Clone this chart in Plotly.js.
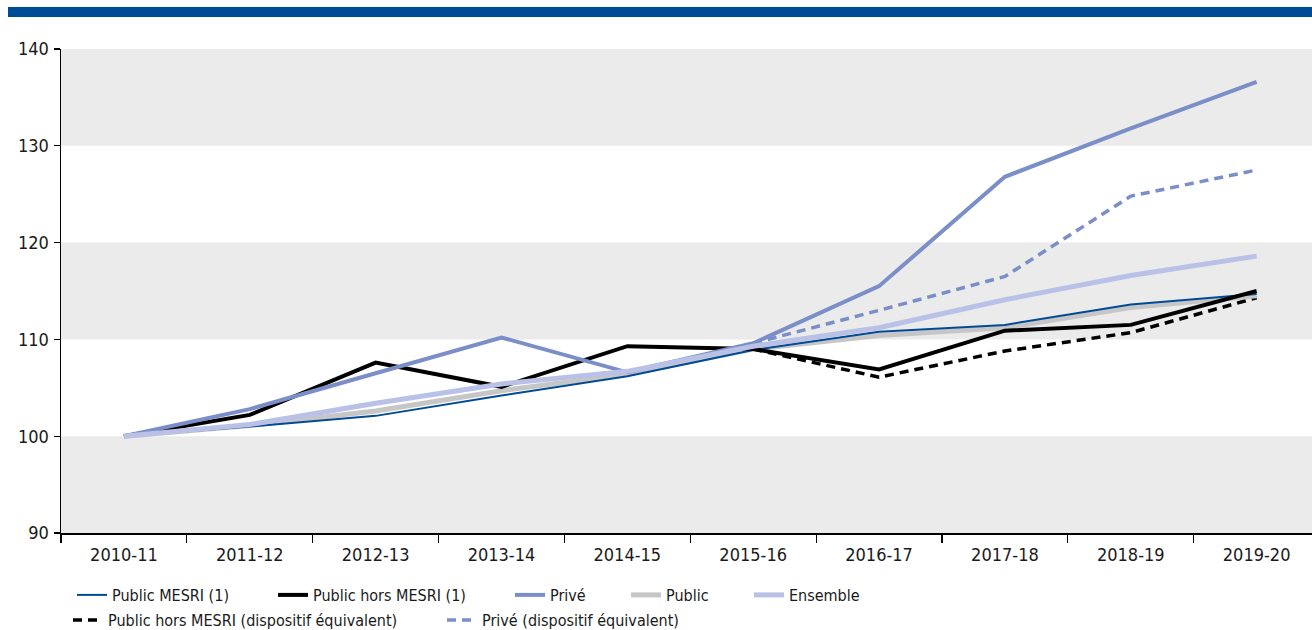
<!DOCTYPE html>
<html>
<head>
<meta charset="utf-8">
<script src="https://cdn.plot.ly/plotly-3.0.1.min.js"></script>
<style>
html,body{margin:0;padding:0;background:#fff;overflow:hidden;}
#topbar{position:absolute;left:8px;right:0;top:7px;height:10px;background:#004b96;}
#chart{position:absolute;left:0;top:0;width:1312px;height:630px;}
#chart text{font-stretch:condensed;}
</style>
</head>
<body>
<div id="chart"></div>
<div id="topbar"></div>
<script>
// Categories (school years)
const categories = ['2010-11','2011-12','2012-13','2013-14','2014-15','2015-16','2016-17','2017-18','2018-19','2019-20'];

// Series values (index base 100 in 2010-11)
const publicMesri      = [100, 101.0, 102.1, 104.2, 106.2, 108.9, 110.8, 111.5, 113.6, 114.7];
const publicHorsMesri  = [100, 102.2, 107.6, 105.1, 109.3, 109.0, 106.9, 110.9, 111.5, 115.0];
const prive            = [100, 102.8, 106.5, 110.2, 106.6, 109.6, 115.5, 126.8, 131.8, 136.6];
const publicTotal      = [100, 101.1, 102.6, 104.7, 106.4, 109.0, 110.4, 111.2, 113.3, 114.5];
const ensemble         = [100, 101.2, 103.4, 105.4, 106.7, 109.3, 111.2, 114.1, 116.6, 118.6];
const publicHorsEquiv  = [null, null, null, null, null, 109.0, 106.1, 108.8, 110.7, 114.3];
const priveEquiv       = [null, null, null, null, null, 109.6, 113.0, 116.5, 124.8, 127.5];

// Series names
const names = {
  mesri: 'Public MESRI (1)',
  hors: 'Public hors MESRI (1)',
  prive: 'Privé',
  pub: 'Public',
  ens: 'Ensemble',
  horsEq: 'Public hors MESRI (dispositif équivalent)',
  priveEq: 'Privé (dispositif équivalent)'
};

// Y-axis tick values and alternating shaded bands
const yTicks = [90, 100, 110, 120, 130, 140];
const bandStarts = [90, 110, 130];

const FONT = '"DejaVu Sans Condensed", "DejaVu Sans", sans-serif';

const traces = [
  {x: categories, y: publicHorsEquiv, name: names.horsEq, legend: 'legend6',
   mode: 'lines', line: {color: '#000000', width: 3.5, dash: '9px,6px'}},
  {x: categories, y: priveEquiv, name: names.priveEq, legend: 'legend7',
   mode: 'lines', line: {color: '#7a8ec8', width: 3.5, dash: '9px,6px'}},
  {x: categories, y: publicTotal, name: names.pub, legend: 'legend4',
   mode: 'lines', line: {color: '#c6c6c6', width: 5}},
  {x: categories, y: publicMesri, name: names.mesri, legend: 'legend',
   mode: 'lines', line: {color: '#004b96', width: 2}},
  {x: categories, y: publicHorsMesri, name: names.hors, legend: 'legend2',
   mode: 'lines', line: {color: '#000000', width: 4}},
  {x: categories, y: prive, name: names.prive, legend: 'legend3',
   mode: 'lines', line: {color: '#7a8ec8', width: 4}},
  {x: categories, y: ensemble, name: names.ens, legend: 'legend5',
   mode: 'lines', line: {color: '#b9c1e6', width: 5}}
];

const shapes = bandStarts.map(b => ({
  type: 'rect', xref: 'paper', yref: 'y', x0: 0, x1: 1, y0: b, y1: b + 10,
  fillcolor: '#ebebeb', line: {width: 0}, layer: 'below'
}));

function leg(px, py) {
  return {
    orientation: 'h', xref: 'container', yref: 'container',
    x: px / 1312, y: 1 - py / 630, xanchor: 'left', yanchor: 'top',
    bgcolor: 'rgba(0,0,0,0)', font: {family: FONT, size: 16, color: '#1a1a1a'},
    itemwidth: 30
  };
}

const layout = {
  width: 1312, height: 630,
  margin: {l: 61, r: 0, t: 49, b: 97},
  paper_bgcolor: 'rgba(0,0,0,0)',
  plot_bgcolor: 'rgba(0,0,0,0)',
  font: {family: FONT, size: 17, color: '#1a1a1a'},
  showlegend: true,
  xaxis: {
    type: 'category', range: [-0.5, 9.44],
    tickson: 'boundaries', ticks: 'outside', ticklen: 8, tickcolor: '#000', tickwidth: 1.2,
    showline: true, linecolor: '#000', linewidth: 1.5,
    showgrid: false, zeroline: false, ticklabelstandoff: 5,
    tickfont: {family: FONT, size: 18, color: '#1a1a1a'}
  },
  yaxis: {
    range: [90, 140], tickvals: yTicks, ticks: 'outside', ticklen: 6, tickcolor: '#000', tickwidth: 1.2,
    showline: true, linecolor: '#000', linewidth: 1.5,
    showgrid: false, zeroline: false, ticklabelstandoff: 1,
    tickfont: {family: FONT, size: 18, color: '#1a1a1a'}
  },
  shapes: shapes,
  legend: leg(72, 578),
  legend2: leg(273, 578),
  legend3: leg(510, 578),
  legend4: leg(626, 578),
  legend5: leg(749, 578),
  legend6: leg(68, 603),
  legend7: leg(442, 603)
};

Plotly.newPlot('chart', traces, layout, {displayModeBar: false, staticPlot: true});
</script>
</body>
</html>
